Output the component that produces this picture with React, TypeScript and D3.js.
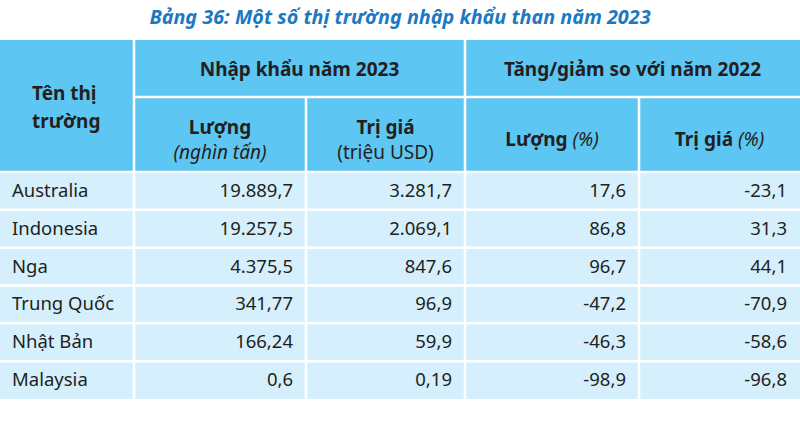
import * as d3 from 'd3';

// Dữ liệu bảng 36
const markets = ['Australia', 'Indonesia', 'Nga', 'Trung Quốc', 'Nhật Bản', 'Malaysia'];
const volume2023 = [19889.7, 19257.5, 4375.5, 341.77, 166.24, 0.6];
const value2023 = [3281.7, 2069.1, 847.6, 96.9, 59.9, 0.19];
const volumeChange = [17.6, 86.8, 96.7, -47.2, -46.3, -98.9];
const valueChange = [-23.1, 31.3, 44.1, -70.9, -58.6, -96.8];

const title = 'Bảng 36: Một số thị trường nhập khẩu than năm 2023';

const W = 800;
const H = 425;
const colEdges = [0, 134, 306, 465, 639, 800];
const headerTop = 40;
const headerMid = 97;
const headerBottom = 172;
const tableBottom = 399;

const headColor = '#5ec6f2';
const rowColor = '#d5effc';
const textColor = '#231f20';
const font = "'Noto Sans', 'Open Sans', sans-serif";

const vi = d3.formatLocale({ decimal: ',', thousands: '.', grouping: [3], currency: ['', ''], minus: '-' });
function fmt(v: number) {
  const parts = String(v).split('.');
  const dec = parts[1] ? parts[1].length : 0;
  return vi.format(`,.${dec}f`)(v);
}

export default function App() {
  const rows = d3.scaleBand().domain(markets).range([headerBottom, tableBottom]);
  const cols = [volume2023, value2023, volumeChange, valueChange];

  const cx = (a: number, b: number) => (colEdges[a] + colEdges[b]) / 2;

  return (
    <svg width={W} height={H} style={{ position: 'absolute', left: 0, top: 0, background: '#fff' }}>
      <text x={W / 2} y={24} textAnchor="middle" fontFamily={font} fontStyle="italic" fontWeight={700}
        fontSize={19.8} fill="#1b79c3">{title}</text>

      {/* header */}
      <rect x={0} y={headerTop} width={W} height={headerBottom - headerTop} fill={headColor} />
      {/* rows */}
      {markets.map((m) => (
        <rect key={m} x={0} y={rows(m)} width={W} height={rows.bandwidth()} fill={rowColor} />
      ))}

      {/* white grid lines */}
      <g stroke="#fff" strokeWidth={2.5}>
        <line x1={colEdges[1]} x2={W} y1={headerMid} y2={headerMid} />
        {markets.map((m) => (
          <line key={m} x1={0} x2={W} y1={rows(m)} y2={rows(m)} />
        ))}
        <line x1={colEdges[1]} x2={colEdges[1]} y1={headerTop} y2={tableBottom} />
        <line x1={colEdges[3]} x2={colEdges[3]} y1={headerTop} y2={tableBottom} />
        <line x1={colEdges[2]} x2={colEdges[2]} y1={headerMid} y2={tableBottom} />
        <line x1={colEdges[4]} x2={colEdges[4]} y1={headerMid} y2={tableBottom} />
      </g>

      <g fontFamily={font} fontSize={18.5} fill={textColor}>
        {/* header text */}
        <g fontSize={19}>
          <text x={32} y={100} fontWeight={700}>Tên thị</text>
          <text x={32} y={128} fontWeight={700}>trường</text>
          <text x={cx(1, 3)} y={76} textAnchor="middle" fontWeight={700}>Nhập khẩu năm 2023</text>
          <text x={cx(3, 5)} y={76} textAnchor="middle" fontWeight={700}>Tăng/giảm so với năm 2022</text>
          <text x={cx(1, 2)} y={134} textAnchor="middle" fontWeight={700}>Lượng</text>
          <text x={cx(1, 2)} y={159} textAnchor="middle" fontStyle="italic">(nghìn tấn)</text>
          <text x={cx(2, 3)} y={134} textAnchor="middle" fontWeight={700}>Trị giá</text>
          <text x={cx(2, 3)} y={159} textAnchor="middle">(triệu USD)</text>
          <text x={cx(3, 4)} y={146} textAnchor="middle">
            <tspan fontWeight={700}>Lượng</tspan>
            <tspan fontStyle="italic"> (%)</tspan>
          </text>
          <text x={cx(4, 5)} y={146} textAnchor="middle">
            <tspan fontWeight={700}>Trị giá</tspan>
            <tspan fontStyle="italic"> (%)</tspan>
          </text>
        </g>

        {/* body */}
        {markets.map((m, i) => {
          const ty = (rows(m) as number) + rows.bandwidth() / 2 + 6;
          return (
            <g key={m}>
              <text x={12} y={ty}>{m}</text>
              {cols.map((c, j) => (
                <text key={j} x={colEdges[j + 2] - 13} y={ty} textAnchor="end">{fmt(c[i])}</text>
              ))}
            </g>
          );
        })}
      </g>
    </svg>
  );
}
